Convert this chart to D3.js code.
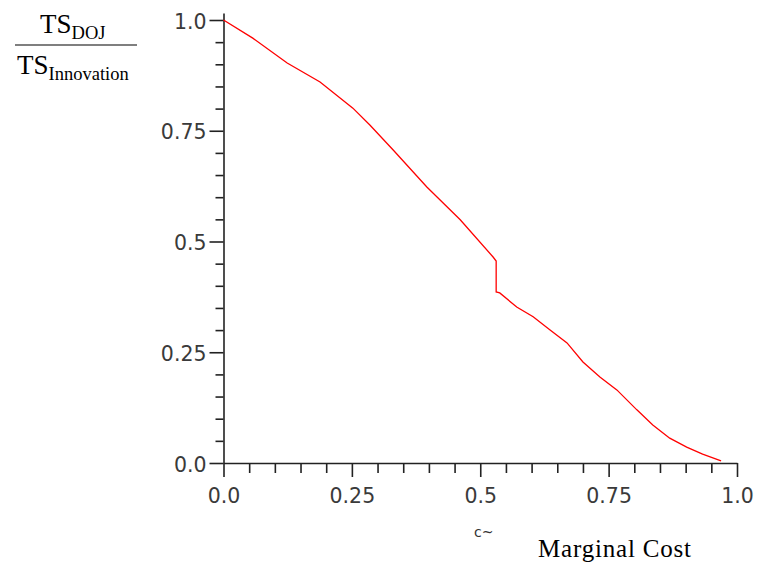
<!DOCTYPE html>
<html>
<head>
<meta charset="utf-8">
<script src="https://cdn.jsdelivr.net/npm/d3@7"></script>
<style>
  html, body { margin: 0; padding: 0; background: #fff; }
  svg { display: block; }
</style>
</head>
<body>
<svg id="chart" width="759" height="565"></svg>
<script>
// ---- data ----
const curveX = [0, 0.057, 0.124, 0.188, 0.252, 0.285, 0.330, 0.396, 0.461, 0.525, 0.531, 0.531, 0.538, 0.571, 0.603, 0.636, 0.669, 0.700, 0.733, 0.766, 0.805, 0.836, 0.869, 0.902, 0.933, 0.969];
const curveY = [1.0, 0.959, 0.903, 0.860, 0.801, 0.763, 0.707, 0.623, 0.549, 0.465, 0.456, 0.386, 0.384, 0.352, 0.330, 0.300, 0.271, 0.228, 0.194, 0.165, 0.120, 0.086, 0.056, 0.036, 0.020, 0.005];
const xMajorTicks = [0, 0.25, 0.5, 0.75, 1.0];
const xTickLabels = ["0.0", "0.25", "0.5", "0.75", "1.0"];
const yMajorTicks = [0, 0.25, 0.5, 0.75, 1.0];
const yTickLabels = ["0.0", "0.25", "0.5", "0.75", "1.0"];
const minorTicks = d3.range(0, 21).map(i => i * 0.05);

const svg = d3.select("#chart");

const x = d3.scaleLinear().domain([0, 1]).range([223.5, 737]);
const y = d3.scaleLinear().domain([0, 1.0158]).range([463, 13]);

const tickFont = "'DejaVu Sans', sans-serif";
const serifFont = "'Liberation Serif', 'Times New Roman', serif";

// Y axis: minor ticks
svg.append("g").attr("transform", `translate(${x(0)},0)`)
  .call(d3.axisLeft(y).tickValues(minorTicks.filter(v => !yMajorTicks.some(m => Math.abs(m - v) < 1e-9)))
    .tickSize(8).tickSizeOuter(0).tickFormat(""))
  .call(g => g.select(".domain").remove());
// Y axis: major ticks + labels + axis line
svg.append("g").attr("class", "yaxis").attr("transform", `translate(${x(0)},0)`)
  .call(d3.axisLeft(y).tickValues(yMajorTicks).tickSize(14).tickSizeOuter(0).tickPadding(3)
    .tickFormat((d, i) => yTickLabels[i]))
  .call(g => g.selectAll(".tick text").attr("dy", "0.4em"));

// X axis: minor ticks
svg.append("g").attr("transform", `translate(0,${y(0)})`)
  .call(d3.axisBottom(x).tickValues(minorTicks.filter(v => !xMajorTicks.some(m => Math.abs(m - v) < 1e-9)))
    .tickSize(10).tickSizeOuter(0).tickFormat(""))
  .call(g => g.select(".domain").remove());
// X axis: major ticks + labels + axis line
svg.append("g").attr("class", "xaxis").attr("transform", `translate(0,${y(0)})`)
  .call(d3.axisBottom(x).tickValues(xMajorTicks).tickSize(14).tickSizeOuter(0).tickPadding(11)
    .tickFormat((d, i) => xTickLabels[i]));

svg.selectAll(".tick line, .domain").attr("stroke", "#222").attr("stroke-width", 1.6);
svg.selectAll(".tick text").attr("font-family", tickFont).attr("font-size", 20.5).attr("fill", "#3a3a3a");

// Curve
const curveLine = d3.line().x(d => x(d[0])).y(d => y(d[1]));
svg.append("path")
  .datum(curveX.map((v, i) => [v, curveY[i]]))
  .attr("d", curveLine)
  .attr("fill", "none")
  .attr("stroke", "#ff0000")
  .attr("stroke-width", 1.3);

// Axis labels
svg.append("text").attr("x", 474).attr("y", 537)
  .attr("font-family", tickFont).attr("font-size", 14).attr("fill", "#333").text("c~");
svg.append("text").attr("x", 538).attr("y", 557)
  .attr("font-family", serifFont).attr("font-size", 25).attr("fill", "#000")
  .attr("textLength", 153).attr("lengthAdjust", "spacing")
  .text("Marginal Cost");

// Fraction label TS_DOJ / TS_Innovation
const numText = svg.append("text").attr("x", 40).attr("y", 33).attr("font-family", serifFont).attr("fill", "#000");
numText.append("tspan").attr("font-size", 27).text("TS");
numText.append("tspan").attr("font-size", 18.5).attr("dy", 6).text("DOJ");
svg.append("line").attr("x1", 15).attr("x2", 137).attr("y1", 45).attr("y2", 45)
  .attr("stroke", "#000").attr("stroke-width", 1.2);
const denText = svg.append("text").attr("x", 17).attr("y", 73.5).attr("font-family", serifFont).attr("fill", "#000");
denText.append("tspan").attr("font-size", 27).text("TS");
denText.append("tspan").attr("font-size", 18.5).attr("dy", 6).text("Innovation");
</script>
</body>
</html>
